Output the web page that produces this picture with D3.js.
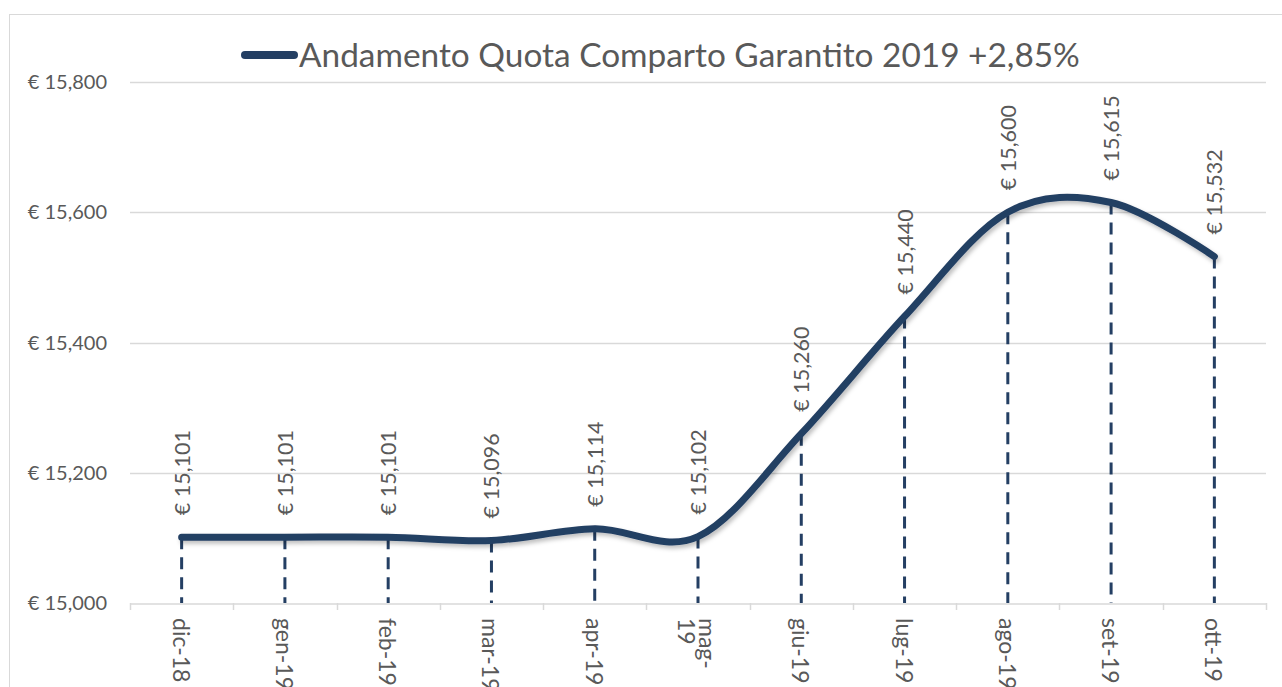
<!DOCTYPE html>
<html>
<head>
<meta charset="utf-8">
<script src="https://cdn.jsdelivr.net/npm/d3@7"></script>
<style>
  body { margin: 0; background: #fff; }
  text { font-family: Lato, "Open Sans", sans-serif; fill: #595959; }
</style>
</head>
<body>
<script>
var months = ["dic-18", "gen-19", "feb-19", "mar-19", "apr-19", "mag-19", "giu-19", "lug-19", "ago-19", "set-19", "ott-19"];
var quota = [15101, 15101, 15101, 15096, 15114, 15102, 15260, 15440, 15600, 15615, 15532];
var yTicks = [15000, 15200, 15400, 15600, 15800];
var title = "Andamento Quota Comparto Garantito 2019 +2,85%";

var W = 1282, H = 687;
var plotLeft = 130, plotRight = 1266, plotTop = 82, plotBottom = 603;
var navy = "#243f63";

var svg = d3.select("body").append("svg")
    .attr("width", W)
    .attr("height", H);

// soft shadow under the series line
var f = svg.append("defs").append("filter")
    .attr("id", "shadow")
    .attr("x", "-5%").attr("y", "-20%")
    .attr("width", "110%").attr("height", "140%");
f.append("feDropShadow")
    .attr("dx", 2).attr("dy", 3)
    .attr("stdDeviation", 2)
    .attr("flood-color", "#000")
    .attr("flood-opacity", 0.25);

// chart border
svg.append("rect")
    .attr("x", 9.5).attr("y", 14.5)
    .attr("width", 1300).attr("height", 700)
    .attr("fill", "none")
    .attr("stroke", "#d9d9d9");

var x = d3.scaleBand()
    .domain(months)
    .range([plotLeft, plotRight]);

var y = d3.scaleLinear()
    .domain([15000, 15800])
    .range([plotBottom, plotTop]);

var fmt = d3.format(",");

// gridlines
svg.append("g")
  .selectAll("line")
    .data(yTicks.slice(1))
  .enter().append("line")
    .attr("x1", plotLeft).attr("x2", plotRight)
    .attr("y1", function(d) { return Math.round(y(d)) + 0.5; })
    .attr("y2", function(d) { return Math.round(y(d)) + 0.5; })
    .attr("stroke", "#d9d9d9")
    .attr("stroke-width", 1.3);

// y labels
svg.append("g")
  .selectAll("text")
    .data(yTicks)
  .enter().append("text")
    .attr("x", 107)
    .attr("y", function(d) { return y(d); })
    .attr("dy", "0.35em")
    .attr("text-anchor", "end")
    .style("font-size", "20px")
    .text(function(d) { return "€ " + fmt(d); });

// x axis
var xAxis = d3.axisBottom(x).tickSize(0).tickFormat("");
var gx = svg.append("g")
    .attr("transform", "translate(0," + (Math.round(plotBottom) + 0.5) + ")")
    .call(xAxis);
gx.select(".domain").attr("stroke", "#d9d9d9").attr("stroke-width", 1.5);

svg.append("g")
  .selectAll("line")
    .data(d3.range(months.length + 1))
  .enter().append("line")
    .attr("x1", function(i) { return Math.round(plotLeft + i * x.step()) + 0.5; })
    .attr("x2", function(i) { return Math.round(plotLeft + i * x.step()) + 0.5; })
    .attr("y1", plotBottom)
    .attr("y2", plotBottom + 7)
    .attr("stroke", "#d9d9d9")
    .attr("stroke-width", 1.5);

function cx(m) { return x(m) + x.bandwidth() / 2; }

// month labels, rotated
svg.append("g")
  .selectAll("text")
    .data(months)
  .enter().append("text")
    .attr("transform", function(d) { return "translate(" + cx(d) + "," + (plotBottom + 15) + ") rotate(90)"; })
    .attr("dominant-baseline", "central")
    .style("font-size", "23px")
    .each(function(d) {
      var t = d3.select(this);
      if (d === "mag-19") {
        t.append("tspan").attr("x", 0).attr("y", -10).text("mag-");
        t.append("tspan").attr("x", 0).attr("y", 11).text("19");
      } else {
        t.text(d);
      }
    });

// dashed drop lines
svg.append("g")
  .selectAll("line")
    .data(months)
  .enter().append("line")
    .attr("x1", cx).attr("x2", cx)
    .attr("y1", function(d, i) { return y(quota[i]); })
    .attr("y2", plotBottom)
    .attr("stroke", navy)
    .attr("stroke-width", 3)
    .attr("stroke-dasharray", "12,8");

// smoothed series line
var line = d3.line()
    .x(function(d, i) { return cx(months[i]); })
    .y(function(d) { return y(d); })
    .curve(d3.curveCardinal.tension(0));

svg.append("path")
    .datum(quota)
    .attr("d", line)
    .attr("fill", "none")
    .attr("stroke", navy)
    .attr("stroke-width", 7)
    .attr("stroke-linecap", "round")
    .attr("filter", "url(#shadow)");

// data labels
svg.append("g")
  .selectAll("text")
    .data(quota)
  .enter().append("text")
    .attr("transform", function(d, i) { return "translate(" + cx(months[i]) + "," + (y(d) - 22) + ") rotate(-90)"; })
    .attr("dominant-baseline", "central")
    .style("font-size", "21.5px")
    .text(function(d) { return "€ " + fmt(d); });

// legend + title
svg.append("line")
    .attr("x1", 245).attr("x2", 294)
    .attr("y1", 55).attr("y2", 55)
    .attr("stroke", navy)
    .attr("stroke-width", 8)
    .attr("stroke-linecap", "round");

svg.append("text")
    .attr("x", 299)
    .attr("y", 55)
    .attr("dy", "0.35em")
    .style("font-size", "33.4px")
    .text(title);
</script>
</body>
</html>
